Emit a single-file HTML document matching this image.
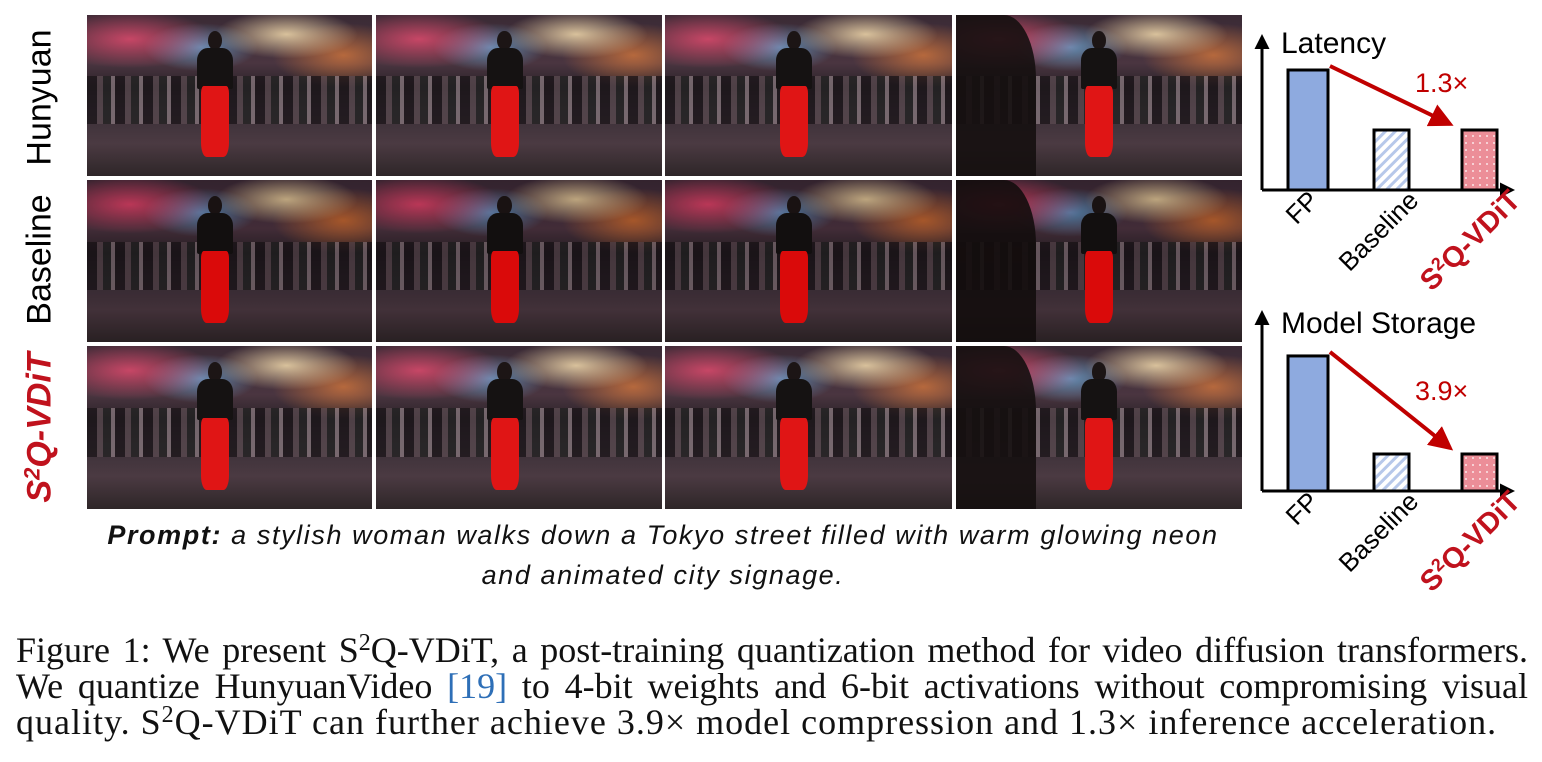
<!DOCTYPE html>
<html><head><meta charset="utf-8">
<style>
body{margin:0;width:1542px;height:762px;background:#fff;position:relative;overflow:hidden;font-family:"Liberation Sans",sans-serif}
sup{line-height:0;vertical-align:baseline;position:relative;top:-0.5em}
.ph{position:absolute;overflow:hidden;
background:
radial-gradient(ellipse 30% 18% at 15% 15%,rgba(255,80,120,.7),transparent),
radial-gradient(ellipse 25% 15% at 70% 12%,rgba(255,230,180,.8),transparent),
radial-gradient(ellipse 20% 15% at 40% 20%,rgba(120,200,255,.6),transparent),
radial-gradient(ellipse 25% 20% at 90% 25%,rgba(255,140,60,.6),transparent),
linear-gradient(180deg,#3a2a35 0%,#4a3540 30%,#2a2228 45%,#3a3038 60%,#4b3a42 80%,#2e2628 100%);}
.crowd{position:absolute;left:0;right:0;top:38%;height:30%;background:repeating-linear-gradient(90deg,#1a1418 0 10px,#5a4a50 10px 16px,#222 16px 24px,#8a7a80 24px 28px);opacity:.75}
.wm{position:absolute;width:14%;top:10%;height:85%}
.wm .hd{position:absolute;left:32%;width:36%;height:14%;top:0;background:#1c1515;border-radius:50%}
.wm .jk{position:absolute;left:5%;width:90%;height:30%;top:12%;background:#151212;border-radius:30% 30% 5% 5%}
.wm .dr{position:absolute;left:15%;width:70%;height:52%;top:40%;background:#e01515;border-radius:10% 10% 20% 20%}
.lbl{position:absolute;font-size:34px;transform:rotate(-90deg);transform-origin:center;white-space:nowrap;text-align:center;width:170px}
.cap{position:absolute;left:16px;width:1512px;font-family:"Liberation Serif",serif;font-size:36px;letter-spacing:1px;color:#111;white-space:nowrap;line-height:36px;height:36px}
.j{text-align:justify;text-align-last:justify;white-space:normal;letter-spacing:0}
.pr{position:absolute;left:0;width:1326px;text-align:center;font-style:italic;font-size:27px;letter-spacing:1.6px;color:#111;white-space:nowrap}
</style></head><body>
<div id="grid"></div>
<div class="lbl" style="left:-45px;top:78px">Hunyuan</div>
<div class="lbl" style="left:-45px;top:240px">Baseline</div>
<div class="lbl" style="left:-45px;top:408px;color:#c0121d;font-weight:bold;font-style:italic">S<sup style="font-size:22px">2</sup>Q-VDiT</div>

<div class="pr" style="top:520px"><b>Prompt:</b> a stylish woman walks down a Tokyo street filled with warm glowing neon</div>
<div class="pr" style="top:560px">and animated city signage.</div>

<svg id="charts" width="1542" height="762" style="position:absolute;left:0;top:0">
<defs>
<pattern id="hatch" width="7" height="7" patternUnits="userSpaceOnUse" patternTransform="rotate(45)"><rect width="7" height="7" fill="#fff"/><rect width="3" height="7" fill="#b7c8ea"/></pattern>
<pattern id="dots" width="7" height="7" patternUnits="userSpaceOnUse"><rect width="7" height="7" fill="#ec8e98"/><circle cx="3" cy="3" r="0.9" fill="#fff"/></pattern>
<marker id="ah" markerWidth="6" markerHeight="6" refX="5" refY="3" orient="auto" markerUnits="strokeWidth"><path d="M0,0L6,3L0,6z" fill="#c00000"/></marker>
<marker id="ak" markerWidth="5" markerHeight="5" refX="4" refY="2.5" orient="auto" markerUnits="strokeWidth"><path d="M0,0L5,2.5L0,5z" fill="#000"/></marker>
</defs>
</svg>

<div class="cap j" style="top:632px">Figure 1: We present S<sup style="font-size:24px">2</sup>Q-VDiT, a post-training quantization method for video diffusion transformers.</div>
<div class="cap j" style="top:668px">We quantize HunyuanVideo <span style="color:#2e6fb7">[19]</span> to 4-bit weights and 6-bit activations without compromising visual</div>
<div class="cap" style="top:704px">quality. S<sup style="font-size:24px">2</sup>Q-VDiT can further achieve 3.9× model compression and 1.3× inference acceleration.</div>

<script>
// photo grid
const colX=[87,376,665,956], colW=[285,286,287,286];
const rowY=[15,180,346], rowH=[161,162,163];
const womanPos=[0.45,0.45,0.45,0.5];
const g=document.getElementById('grid');
for(let r=0;r<3;r++)for(let c=0;c<4;c++){
 const d=document.createElement('div');d.className='ph';
 
 
 d.style.cssText+=`left:${colX[c]}px;top:${rowY[r]}px;width:${colW[c]}px;height:${rowH[r]}px`;
 if(r==1)d.style.filter='brightness(0.85) saturate(1.2)';
 d.innerHTML=`<div class="crowd"></div><div class="wm" style="left:${womanPos[c]*100-7}%"><div class="hd"></div><div class="jk"></div><div class="dr"></div></div>`;
 if(c==3) d.innerHTML+=`<div style="position:absolute;left:0;top:0;width:28%;height:100%;background:#15100f;opacity:.9;border-radius:0 40% 0 0"></div>`;
 g.appendChild(d);
}
// charts
const categories=['FP','Baseline','S2Q-VDiT'];
const latencyValues=[2.0,1.0,1.0];
const storageValues=[3.65,1.0,1.0];
const titles=['Latency','Model Storage'];
const speedups=['1.3×','3.9×'];
const svg=document.getElementById('charts');const NS='http://www.w3.org/2000/svg';
function el(t,a,txt){const e=document.createElementNS(NS,t);for(const k in a)e.setAttribute(k,a[k]);if(txt)e.textContent=txt;svg.appendChild(e);return e;}
const panels=[{vals:latencyValues,axisY:190,topY:31,scale:60,titleY:53,spY:92},{vals:storageValues,axisY:491,topY:307,scale:37,titleY:333,spY:400}];
const barX=[1288,1374,1462],barW=[40,35,35],fills=['#8eaadf','url(#hatch)','url(#dots)'];
panels.forEach((p,i)=>{
 const y=v=>p.axisY-v*p.scale;
 p.vals.forEach((v,j)=>{
  const b=el('rect',{x:barX[j],y:y(v),width:barW[j],height:p.axisY-y(v),fill:fills[j],stroke:'#000','stroke-width':3});
  
  
 });
 const ya=el('line',{x1:1262,y1:p.axisY,x2:1262,y2:p.topY+6,stroke:'#000','stroke-width':3,'marker-end':'url(#ak)'});
 
 
 const xa=el('line',{x1:1262,y1:p.axisY,x2:1512,y2:p.axisY,stroke:'#000','stroke-width':3,'marker-end':'url(#ak)'});
 
 
 const t=el('text',{x:1281,y:p.titleY,'font-size':30,fill:'#000'},titles[i]);
 
 
 const a=el('line',{x1:1330,y1:y(p.vals[0])-4,x2:1450,y2:y(p.vals[2])-6,stroke:'#c00000','stroke-width':4,'marker-end':'url(#ah)'});
 
 
 const s=el('text',{x:1415,y:p.spY,'font-size':27,fill:'#c00000'},speedups[i]);
 
 
 const cx=[1320,1420,1522];
 categories.forEach((c,j)=>{
  const ly=p.axisY+12;
  const tx=el('text',{x:cx[j],y:ly,'font-size':j==2?29:26,'text-anchor':'end',transform:`rotate(-45 ${cx[j]} ${ly})`,fill:j==2?'#c0121d':'#000','font-weight':j==2?'bold':'normal'});
  
  
  if(j==2){tx.innerHTML='S<tspan dy="-10" font-size="18">2</tspan><tspan dy="10">Q-VDiT</tspan>';}
  else tx.textContent=c;
 });
});
</script>
</body></html>
